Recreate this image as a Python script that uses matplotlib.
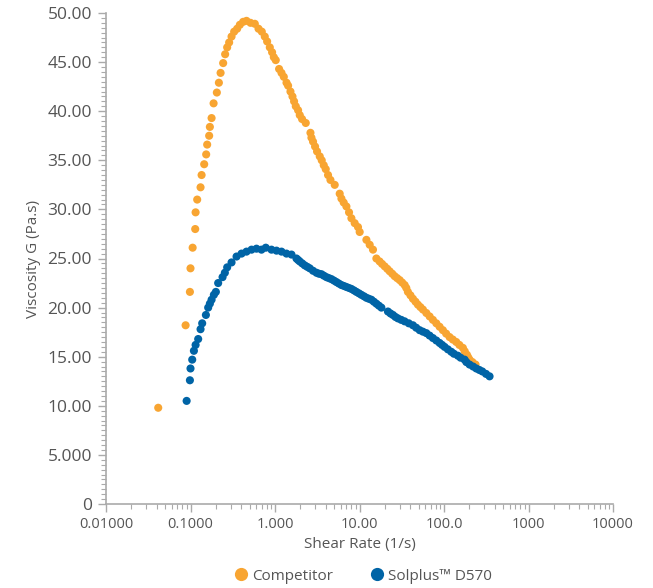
import matplotlib
matplotlib.use("Agg")
import matplotlib.pyplot as plt
from matplotlib.ticker import FixedLocator, FixedFormatter, LogLocator, NullFormatter, MultipleLocator
from matplotlib.lines import Line2D

plt.rcParams['font.family'] = ['Open Sans', 'DejaVu Sans']

# Competitor series (shear rate 1/s, viscosity Pa.s)
comp_x = [0.0415, 0.0875, 0.0984, 0.100, 0.106, 0.1137, 0.1149, 0.120, 0.1315, 0.1353,
          0.1452, 0.1533, 0.1575, 0.1663, 0.1695, 0.1776, 0.1876, 0.205, 0.2167, 0.227,
          0.2435, 0.257, 0.2716, 0.2866, 0.306, 0.3285, 0.3565, 0.3837, 0.4198, 0.460,
          0.513, 0.577, 0.638, 0.698, 0.757, 0.807, 0.868, 0.924, 0.968, 1.021,
          1.118, 1.194, 1.271, 1.368, 1.429, 1.524, 1.610, 1.682, 1.762, 1.876,
          1.964, 2.091, 2.312, 2.628, 2.699, 2.82, 2.98, 3.145, 3.385, 3.573,
          3.775, 3.986, 4.243, 4.53, 5.09, 5.83, 6.11, 6.50, 7.00, 7.52,
          8.02, 8.77, 9.60, 10.05, 12.07, 13.2, 14.44, 15.84, 17.3, 18.5,
          19.86, 21.3, 22.75, 24.4, 26.06, 27.9, 29.9, 32.0, 34.2, 35.8,
          37.4, 40.1, 42.9, 46.0, 49.1, 52.6, 56.3, 61.8, 67.6, 73.9,
          81.1, 88.7, 97.0, 106.0, 116.4, 127.0, 139.6, 152.0, 167.3, 176.0,
          186.6, 193.0, 200.7, 217.0, 236.3]
comp_y = [9.8, 18.2, 21.6, 24.0, 26.1, 28.0, 29.7, 31.0, 32.25, 33.5,
          34.6, 35.6, 36.6, 37.5, 38.4, 39.3, 40.8, 41.9, 42.9, 43.9,
          44.9, 45.8, 46.5, 47.0, 47.6, 48.1, 48.4, 48.8, 49.1, 49.2,
          49.0, 48.9, 48.4, 48.1, 47.6, 47.1, 46.5, 46.0, 45.5, 45.2,
          44.3, 43.9, 43.5, 42.9, 42.6, 42.0, 41.5, 41.0, 40.5, 40.1,
          39.6, 39.2, 38.8, 37.8, 37.3, 36.9, 36.4, 35.9, 35.4, 35.0,
          34.5, 34.1, 33.5, 33.0, 32.5, 31.6, 31.1, 30.7, 30.3, 29.7,
          29.1, 28.6, 28.2, 27.7, 26.9, 26.4, 25.9, 25.0, 24.7, 24.45,
          24.2, 23.95, 23.7, 23.45, 23.2, 23.0, 22.8, 22.55, 22.3, 22.0,
          21.6, 21.25, 20.9, 20.6, 20.3, 20.05, 19.8, 19.45, 19.1, 18.75,
          18.4, 18.05, 17.7, 17.35, 17.0, 16.75, 16.5, 16.2, 15.9, 15.55,
          15.2, 14.95, 14.7, 14.45, 14.2]

# Solplus D570 series
sol_x = [0.0900, 0.0984, 0.100, 0.1048, 0.1097, 0.1149, 0.1233, 0.1315, 0.1375, 0.1521,
         0.1619, 0.1695, 0.1776, 0.189, 0.1996, 0.2125, 0.2395, 0.255, 0.2716, 0.306,
         0.3508, 0.402, 0.460, 0.528, 0.604, 0.692, 0.778, 0.909, 1.042, 1.194,
         1.368, 1.567, 1.795, 1.876, 1.964, 2.10, 2.25, 2.41, 2.578, 2.82,
         3.094, 3.31, 3.545, 3.79, 4.062, 4.35, 4.65, 4.99, 5.33, 5.70,
         6.11, 6.55, 7.00, 7.50, 8.02, 8.60, 9.19, 9.85, 10.53, 11.3,
         12.07, 12.9, 13.83, 14.8, 15.84, 16.95, 18.15, 21.7, 23.3, 24.9,
         26.6, 28.5, 31.2, 34.2, 38.3, 42.9, 46.9, 51.5, 56.3, 61.8,
         67.6, 73.9, 81.1, 88.7, 94.9, 101.6, 111.0, 121.9, 131.0, 146.0,
         157.0, 175.2, 184.0, 200.7, 221.0, 241.0, 262.0, 283.7, 314.0, 346.0]
sol_y = [10.5, 12.6, 13.8, 14.7, 15.6, 16.2, 16.8, 17.8, 18.4, 19.25,
         20.0, 20.4, 20.8, 21.3, 21.6, 22.5, 23.1, 23.55, 24.1, 24.6,
         25.2, 25.5, 25.7, 25.9, 26.0, 25.9, 26.1, 25.9, 25.8, 25.7,
         25.5, 25.4, 25.0, 24.85, 24.7, 24.5, 24.3, 24.15, 24.0, 23.75,
         23.55, 23.45, 23.4, 23.25, 23.1, 23.0, 22.9, 22.75, 22.6, 22.45,
         22.3, 22.2, 22.1, 22.0, 21.9, 21.75, 21.6, 21.45, 21.3, 21.15,
         21.0, 20.9, 20.8, 20.6, 20.4, 20.2, 20.0, 19.6, 19.4, 19.25,
         19.05, 18.9, 18.75, 18.6, 18.4, 18.2, 17.95, 17.7, 17.55, 17.4,
         17.15, 16.9, 16.65, 16.4, 16.2, 16.0, 15.75, 15.5, 15.3, 15.1,
         14.9, 14.7, 14.45, 14.2, 14.0, 13.8, 13.65, 13.5, 13.25, 13.0]

x_ticks = [0.01, 0.1, 1, 10, 100, 1000, 10000]
x_labels = ['0.01000', '0.1000', '1.000', '10.00', '100.0', '1000', '10000']
y_ticks = [0, 5, 10, 15, 20, 25, 30, 35, 40, 45, 50]
y_labels = ['0', '5.000', '10.00', '15.00', '20.00', '25.00', '30.00', '35.00', '40.00', '45.00', '50.00']

series_names = ['Competitor', 'Solplus\u2122 D570']
colors = ['#F8A532', '#0064A6']

W, H = 653, 588
fig = plt.figure(figsize=(W / 100, H / 100), dpi=100)
ax = fig.add_axes([106 / W, 1 - 504 / H, (613 - 106) / W, (504 - 13) / H])

ax.scatter(comp_x, comp_y, s=34, color=colors[0], edgecolors='none', zorder=3, clip_on=False)
ax.scatter(sol_x, sol_y, s=34, color=colors[1], edgecolors='none', zorder=3, clip_on=False)

ax.set_xscale('log')
ax.set_xlim(0.01, 10000)
ax.set_ylim(0, 50)

axis_col = '#aaaaaa'
text_col = '#555555'
for s in ['top', 'right']:
    ax.spines[s].set_visible(False)
for s in ['left', 'bottom']:
    ax.spines[s].set_color(axis_col)
    ax.spines[s].set_linewidth(1.2)

ax.xaxis.set_major_locator(FixedLocator(x_ticks))
ax.xaxis.set_major_formatter(FixedFormatter(x_labels))
ax.xaxis.set_minor_locator(LogLocator(base=10, subs=range(2, 10), numticks=20))
ax.xaxis.set_minor_formatter(NullFormatter())
ax.yaxis.set_major_locator(FixedLocator(y_ticks))
ax.yaxis.set_major_formatter(FixedFormatter(y_labels))
ax.yaxis.set_minor_locator(MultipleLocator(0.5))

ax.tick_params(axis='both', which='major', length=6, width=1, color=axis_col, labelcolor=text_col)
ax.tick_params(axis='both', which='minor', length=3.5, width=0.8, color=axis_col)
ax.tick_params(axis='x', labelsize=10.5, pad=3)
ax.tick_params(axis='y', labelsize=12.5, pad=4)

ax.set_xlabel('Shear Rate (1/s)', fontsize=11, color=text_col, labelpad=4)
ax.set_ylabel('Viscosity G (Pa.s)', fontsize=11, color=text_col, labelpad=5)

handles = [Line2D([], [], linestyle='none', marker='o', markersize=9.5, color=c, markeredgewidth=0)
           for c in colors]
fig.legend(handles, series_names, loc='center', bbox_to_anchor=(362 / W, 1 - 576 / H), ncol=2,
           frameon=False, fontsize=11, labelcolor=text_col, handletextpad=0.1, columnspacing=2.3,
           handlelength=1.2)

fig.savefig('out.png', dpi=100)
